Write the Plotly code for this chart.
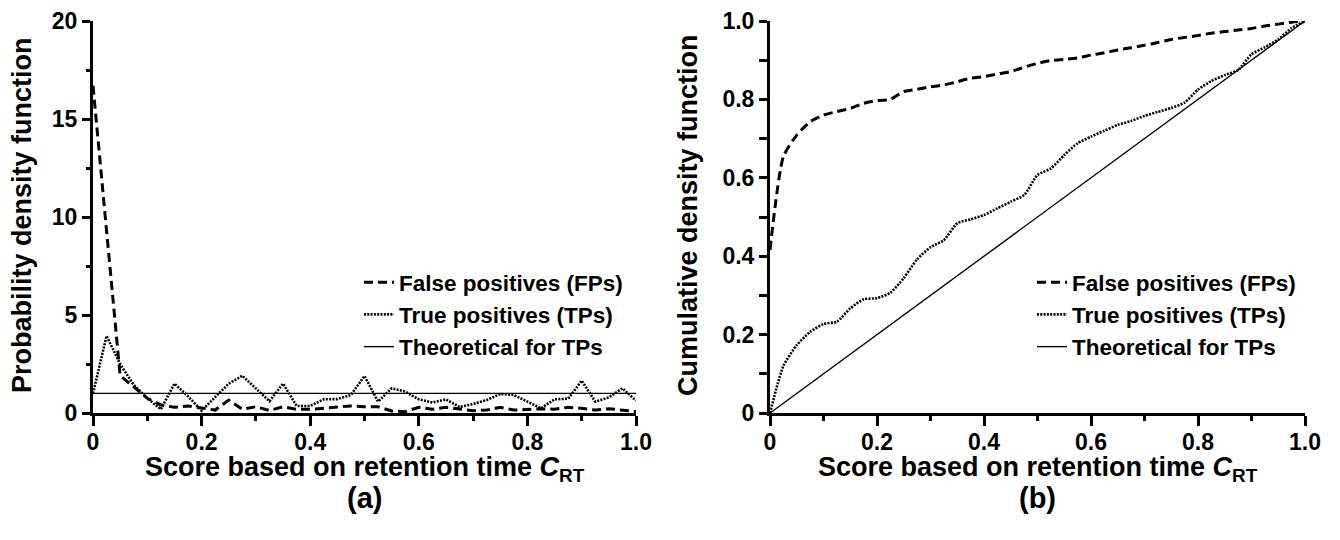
import plotly.graph_objects as go

# ---------------- data ----------------
x_score = [i * 0.025 for i in range(41)]

pdf_fp = [16.7, 9.3, 1.9, 1.34, 0.75, 0.41, 0.29, 0.36, 0.24, 0.15, 0.66, 0.19, 0.32, 0.13,
          0.32, 0.19, 0.19, 0.24, 0.29, 0.36, 0.32, 0.32, 0.1, 0.07, 0.29, 0.19, 0.29, 0.2,
          0.12, 0.15, 0.29, 0.15, 0.19, 0.22, 0.19, 0.29, 0.24, 0.15, 0.22, 0.15, 0.07]
pdf_tp = [1.0, 3.93, 2.5, 1.43, 0.75, 0.19, 1.5, 0.85, 0.12, 0.8, 1.5, 1.9, 1.26, 0.6,
          1.5, 0.36, 0.36, 0.7, 0.71, 0.92, 1.89, 0.58, 1.26, 1.09, 0.7, 0.53, 0.7, 0.3,
          0.46, 0.66, 0.97, 0.92, 0.58, 0.24, 0.7, 0.73, 1.65, 0.58, 0.8, 1.26, 0.63]
pdf_theory_x = [0.0, 1.0]
pdf_theory_y = [1.0, 1.0]

cdf_fp = [0.416, 0.654, 0.709, 0.743, 0.760, 0.769, 0.777, 0.790, 0.797, 0.800, 0.820,
          0.826, 0.832, 0.837, 0.845, 0.854, 0.858, 0.865, 0.871, 0.882, 0.892, 0.899,
          0.902, 0.906, 0.913, 0.919, 0.926, 0.932, 0.938, 0.945, 0.953, 0.958, 0.963,
          0.969, 0.973, 0.977, 0.981, 0.987, 0.992, 0.997, 1.0]
cdf_tp = [0.0, 0.12, 0.173, 0.207, 0.227, 0.233, 0.267, 0.29, 0.293, 0.307, 0.344, 0.392,
          0.423, 0.441, 0.484, 0.494, 0.505, 0.522, 0.539, 0.556, 0.607, 0.624, 0.658,
          0.688, 0.705, 0.72, 0.735, 0.745, 0.758, 0.768, 0.778, 0.792, 0.825, 0.847,
          0.862, 0.875, 0.915, 0.933, 0.953, 0.982, 1.0]
cdf_theory_x = [0.0, 1.0]
cdf_theory_y = [0.0, 1.0]

names = ["False positives (FPs)", "True positives (TPs)", "Theoretical for TPs"]
x_ticks = [0, 0.2, 0.4, 0.6, 0.8, 1.0]
x_tick_text = ["0", "0.2", "0.4", "0.6", "0.8", "1.0"]
pdf_ticks = [0, 5, 10, 15, 20]
pdf_tick_text = ["0", "5", "10", "15", "20"]
cdf_ticks = [0, 0.2, 0.4, 0.6, 0.8, 1.0]
cdf_tick_text = ["0", "0.2", "0.4", "0.6", "0.8", "1.0"]
x_title = "Score based on retention time <i>C</i><sub>RT</sub>"
y_title_a = "Probability density function"
y_title_b = "Cumulative density function"


def b(s):
    return "<b>" + s + "</b>"


# ---------------- styles ----------------
FONT = "Liberation Sans, Arial, sans-serif"
W, H = 1340, 540
fp_line = dict(color="black", width=3, dash="9px,5px")
tp_line = dict(color="black", width=2.6, dash="2px,1.3px")
th_line = dict(color="black", width=1.4)

fig = go.Figure()
# Panel (a)
fig.add_trace(go.Scatter(x=x_score, y=pdf_fp, mode="lines", name=b(names[0]), line=fp_line,
                         xaxis="x", yaxis="y", legend="legend"))
fig.add_trace(go.Scatter(x=x_score, y=pdf_tp, mode="lines", name=b(names[1]), line=tp_line,
                         xaxis="x", yaxis="y", legend="legend"))
fig.add_trace(go.Scatter(x=pdf_theory_x, y=pdf_theory_y, mode="lines", name=b(names[2]),
                         line=th_line, xaxis="x", yaxis="y", legend="legend"))
# Panel (b)
fig.add_trace(go.Scatter(x=x_score, y=cdf_fp, mode="lines", name=b(names[0]),
                         line=dict(fp_line, shape="spline", smoothing=0.6),
                         xaxis="x2", yaxis="y2", legend="legend2"))
fig.add_trace(go.Scatter(x=x_score, y=cdf_tp, mode="lines", name=b(names[1]),
                         line=dict(tp_line, shape="spline", smoothing=0.6),
                         xaxis="x2", yaxis="y2", legend="legend2"))
fig.add_trace(go.Scatter(x=cdf_theory_x, y=cdf_theory_y, mode="lines", name=b(names[2]),
                         line=th_line, xaxis="x2", yaxis="y2", legend="legend2"))

left_dom = [93 / W, 636 / W]
right_dom = [770 / W, 1305 / W]
y_dom = [(H - 413) / H, (H - 21) / H]

tickfont = dict(family=FONT, size=23, color="black", weight="bold")
common = dict(showline=True, linewidth=3, linecolor="black", ticks="outside", tickwidth=2.5,
              tickcolor="black", showgrid=False, zeroline=False, tickfont=tickfont,
              fixedrange=True, automargin=False)
minor_x = dict(tickvals=[0.1, 0.3, 0.5, 0.7, 0.9], ticklen=5, tickwidth=2.5,
               tickcolor="black", ticks="outside")
legfont = dict(family=FONT, size=22.5, color="black", weight="bold")

fig.update_layout(
    width=W, height=H, margin=dict(l=0, r=0, t=0, b=0, autoexpand=False),
    paper_bgcolor="white", plot_bgcolor="white",
    font=dict(family=FONT, color="black"),
    xaxis=dict(common, domain=left_dom, anchor="y", range=[0, 1], tickvals=x_ticks,
               ticktext=[b(t) for t in x_tick_text], ticklen=10, minor=minor_x,
               ticklabelstandoff=-4),
    yaxis=dict(common, domain=y_dom, anchor="x", range=[0, 20], tickvals=pdf_ticks,
               ticktext=[b(t) for t in pdf_tick_text], ticklen=8,
               minor=dict(tickvals=[2.5, 7.5, 12.5, 17.5], ticklen=4, tickwidth=2.5,
                          tickcolor="black", ticks="outside")),
    xaxis2=dict(common, domain=right_dom, anchor="y2", range=[0, 1], tickvals=x_ticks,
                ticktext=[b(t) for t in x_tick_text], ticklen=10, minor=minor_x,
                ticklabelstandoff=-4),
    yaxis2=dict(common, domain=y_dom, anchor="x2", range=[0, 1], tickvals=cdf_ticks,
                ticktext=[b(t) for t in cdf_tick_text], ticklen=8,
                minor=dict(tickvals=[0.1, 0.3, 0.5, 0.7, 0.9], ticklen=8, tickwidth=2.5,
                           tickcolor="black", ticks="outside")),
    legend=dict(x=359 / W, xanchor="left", y=(H - 261) / H, yanchor="top",
                bgcolor="rgba(0,0,0,0)", font=legfont, itemwidth=30, tracegroupgap=0),
    legend2=dict(x=1032 / W, xanchor="left", y=(H - 261) / H, yanchor="top",
                 bgcolor="rgba(0,0,0,0)", font=legfont, itemwidth=30, tracegroupgap=0),
    showlegend=True,
)

title_font = dict(family=FONT, size=27, color="black")
ann = [
    dict(text=b(y_title_a), x=22 / W, y=(H - 215) / H, textangle=-90, font=title_font),
    dict(text=b(y_title_b), x=688 / W, y=(H - 215) / H, textangle=-90, font=title_font),
    dict(text=b(x_title), x=(93 + 636) / 2 / W, y=(H - 469) / H, font=title_font),
    dict(text=b(x_title), x=(770 + 1305) / 2 / W, y=(H - 469) / H, font=title_font),
    dict(text=b("(a)"), x=(93 + 636) / 2 / W, y=(H - 498) / H,
         font=dict(family=FONT, size=29, color="black")),
    dict(text=b("(b)"), x=(770 + 1305) / 2 / W, y=(H - 498) / H,
         font=dict(family=FONT, size=29, color="black")),
]
for a in ann:
    a.update(xref="paper", yref="paper", showarrow=False, xanchor="center", yanchor="middle")
fig.update_layout(annotations=ann)

fig.write_html("out.html")
